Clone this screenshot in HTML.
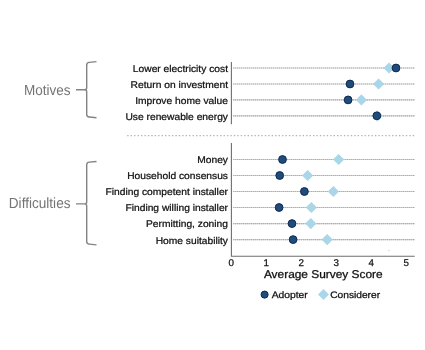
<!DOCTYPE html>
<html><head><meta charset="utf-8"><style>
html,body{margin:0;padding:0;background:#fff;width:425px;height:350px;overflow:hidden;position:relative}
</style></head><body>
<svg width="425" height="350" viewBox="0 0 425 350" style="position:absolute;left:0;top:0;filter:blur(0.35px)">
<rect width="425" height="350" fill="#fff"/>
<g font-family='"Liberation Sans", sans-serif' text-rendering="geometricPrecision">
<line x1="233" y1="68.0" x2="415" y2="68.0" stroke="#cdcdcd" stroke-width="1.15"/>
<line x1="233" y1="68.0" x2="415" y2="68.0" stroke="#afafaf" stroke-width="1.15" stroke-dasharray="1 1"/>
<line x1="233" y1="84.0" x2="415" y2="84.0" stroke="#cdcdcd" stroke-width="1.15"/>
<line x1="233" y1="84.0" x2="415" y2="84.0" stroke="#afafaf" stroke-width="1.15" stroke-dasharray="1 1"/>
<line x1="233" y1="99.9" x2="415" y2="99.9" stroke="#cdcdcd" stroke-width="1.15"/>
<line x1="233" y1="99.9" x2="415" y2="99.9" stroke="#afafaf" stroke-width="1.15" stroke-dasharray="1 1"/>
<line x1="233" y1="115.8" x2="415" y2="115.8" stroke="#cdcdcd" stroke-width="1.15"/>
<line x1="233" y1="115.8" x2="415" y2="115.8" stroke="#afafaf" stroke-width="1.15" stroke-dasharray="1 1"/>
<line x1="233" y1="159.5" x2="415" y2="159.5" stroke="#cdcdcd" stroke-width="1.15"/>
<line x1="233" y1="159.5" x2="415" y2="159.5" stroke="#afafaf" stroke-width="1.15" stroke-dasharray="1 1"/>
<line x1="233" y1="175.5" x2="415" y2="175.5" stroke="#cdcdcd" stroke-width="1.15"/>
<line x1="233" y1="175.5" x2="415" y2="175.5" stroke="#afafaf" stroke-width="1.15" stroke-dasharray="1 1"/>
<line x1="233" y1="191.5" x2="415" y2="191.5" stroke="#cdcdcd" stroke-width="1.15"/>
<line x1="233" y1="191.5" x2="415" y2="191.5" stroke="#afafaf" stroke-width="1.15" stroke-dasharray="1 1"/>
<line x1="233" y1="207.5" x2="415" y2="207.5" stroke="#cdcdcd" stroke-width="1.15"/>
<line x1="233" y1="207.5" x2="415" y2="207.5" stroke="#afafaf" stroke-width="1.15" stroke-dasharray="1 1"/>
<line x1="233" y1="223.55" x2="415" y2="223.55" stroke="#cdcdcd" stroke-width="1.15"/>
<line x1="233" y1="223.55" x2="415" y2="223.55" stroke="#afafaf" stroke-width="1.15" stroke-dasharray="1 1"/>
<line x1="233" y1="239.6" x2="415" y2="239.6" stroke="#cdcdcd" stroke-width="1.15"/>
<line x1="233" y1="239.6" x2="415" y2="239.6" stroke="#afafaf" stroke-width="1.15" stroke-dasharray="1 1"/>
<line x1="127.2" y1="135.6" x2="415" y2="135.6" stroke="#b4b4b4" stroke-width="1.2" stroke-dasharray="1.4 2.04"/>
<line x1="231.4" y1="62" x2="231.4" y2="124.3" stroke="#6e6e6e" stroke-width="1.1"/>
<polyline points="231.4,142.9 231.4,256.3 414.7,256.3" fill="none" stroke="#6e6e6e" stroke-width="1.1"/>
<text transform="translate(228.00 71.90) scale(1 0.95)" font-size="10.25" text-anchor="end" fill="#111111" stroke="#111111" stroke-width="0.26">Lower electricity cost</text>
<text transform="translate(228.00 87.90) scale(1 0.95)" font-size="10.25" text-anchor="end" fill="#111111" stroke="#111111" stroke-width="0.26">Return on investment</text>
<text transform="translate(228.00 103.80) scale(1 0.95)" font-size="10.25" text-anchor="end" fill="#111111" stroke="#111111" stroke-width="0.26">Improve home value</text>
<text transform="translate(228.00 119.70) scale(1 0.95)" font-size="10.25" text-anchor="end" fill="#111111" stroke="#111111" stroke-width="0.26">Use renewable energy</text>
<text transform="translate(228.00 163.40) scale(1 0.95)" font-size="10.25" text-anchor="end" fill="#111111" stroke="#111111" stroke-width="0.26">Money</text>
<text transform="translate(228.00 179.40) scale(1 0.95)" font-size="10.25" text-anchor="end" fill="#111111" stroke="#111111" stroke-width="0.26">Household consensus</text>
<text transform="translate(228.00 195.40) scale(1 0.95)" font-size="10.25" text-anchor="end" fill="#111111" stroke="#111111" stroke-width="0.26">Finding competent installer</text>
<text transform="translate(228.00 211.40) scale(1 0.95)" font-size="10.25" text-anchor="end" fill="#111111" stroke="#111111" stroke-width="0.26">Finding willing installer</text>
<text transform="translate(228.00 227.45) scale(1 0.95)" font-size="10.25" text-anchor="end" fill="#111111" stroke="#111111" stroke-width="0.26">Permitting, zoning</text>
<text transform="translate(228.00 243.50) scale(1 0.95)" font-size="10.25" text-anchor="end" fill="#111111" stroke="#111111" stroke-width="0.26">Home suitability</text>
<path d="M389.0 62.4 L394.6 68.0 L389.0 73.6 L383.4 68.0 Z" fill="#a9d6e8"/>
<path d="M378.6 78.4 L384.20000000000005 84.0 L378.6 89.6 L373.0 84.0 Z" fill="#a9d6e8"/>
<path d="M361.4 94.30000000000001 L367.0 99.9 L361.4 105.5 L355.79999999999995 99.9 Z" fill="#a9d6e8"/>
<path d="M377.4 110.2 L383.0 115.8 L377.4 121.39999999999999 L371.79999999999995 115.8 Z" fill="#a9d6e8"/>
<circle cx="396.0" cy="68.0" r="3.9" fill="#1f4c7c" stroke="#0c2b4f" stroke-width="1.0"/>
<circle cx="350.0" cy="84.0" r="3.9" fill="#1f4c7c" stroke="#0c2b4f" stroke-width="1.0"/>
<circle cx="348.1" cy="99.9" r="3.9" fill="#1f4c7c" stroke="#0c2b4f" stroke-width="1.0"/>
<circle cx="376.8" cy="115.8" r="3.9" fill="#1f4c7c" stroke="#0c2b4f" stroke-width="1.0"/>
<path d="M338.6 153.9 L344.20000000000005 159.5 L338.6 165.1 L333.0 159.5 Z" fill="#a9d6e8"/>
<circle cx="282.5" cy="159.5" r="3.9" fill="#1f4c7c" stroke="#0c2b4f" stroke-width="1.0"/>
<path d="M307.6 169.9 L313.20000000000005 175.5 L307.6 181.1 L302.0 175.5 Z" fill="#a9d6e8"/>
<circle cx="279.7" cy="175.5" r="3.9" fill="#1f4c7c" stroke="#0c2b4f" stroke-width="1.0"/>
<path d="M333.4 185.9 L339.0 191.5 L333.4 197.1 L327.79999999999995 191.5 Z" fill="#a9d6e8"/>
<circle cx="304.4" cy="191.5" r="3.9" fill="#1f4c7c" stroke="#0c2b4f" stroke-width="1.0"/>
<path d="M311.4 201.9 L317.0 207.5 L311.4 213.1 L305.79999999999995 207.5 Z" fill="#a9d6e8"/>
<circle cx="279.1" cy="207.5" r="3.9" fill="#1f4c7c" stroke="#0c2b4f" stroke-width="1.0"/>
<path d="M310.8 217.95000000000002 L316.40000000000003 223.55 L310.8 229.15 L305.2 223.55 Z" fill="#a9d6e8"/>
<circle cx="292.0" cy="223.55" r="3.9" fill="#1f4c7c" stroke="#0c2b4f" stroke-width="1.0"/>
<path d="M327.2 234.0 L332.8 239.6 L327.2 245.2 L321.59999999999997 239.6 Z" fill="#a9d6e8"/>
<circle cx="293.1" cy="239.6" r="3.9" fill="#1f4c7c" stroke="#0c2b4f" stroke-width="1.0"/>
<text transform="translate(231.20 266.20) scale(1 1.0)" font-size="9.8" text-anchor="middle" fill="#111111" stroke="#111111" stroke-width="0.25">0</text>
<text transform="translate(266.20 266.20) scale(1 1.0)" font-size="9.8" text-anchor="middle" fill="#111111" stroke="#111111" stroke-width="0.25">1</text>
<text transform="translate(301.20 266.20) scale(1 1.0)" font-size="9.8" text-anchor="middle" fill="#111111" stroke="#111111" stroke-width="0.25">2</text>
<text transform="translate(336.20 266.20) scale(1 1.0)" font-size="9.8" text-anchor="middle" fill="#111111" stroke="#111111" stroke-width="0.25">3</text>
<text transform="translate(371.20 266.20) scale(1 1.0)" font-size="9.8" text-anchor="middle" fill="#111111" stroke="#111111" stroke-width="0.25">4</text>
<text transform="translate(406.20 266.20) scale(1 1.0)" font-size="9.8" text-anchor="middle" fill="#111111" stroke="#111111" stroke-width="0.25">5</text>
<text transform="translate(263.90 278.20) scale(1 0.95)" font-size="11.9" fill="#111111" stroke="#111111" stroke-width="0.3">Average Survey Score</text>
<circle cx="389" cy="250.5" r="0.7" fill="#cfcfcf"/>
<circle cx="264.6" cy="294.6" r="3.55" fill="#1f4c7c" stroke="#0c2b4f" stroke-width="1.0"/>
<text transform="translate(271.70 298.40) scale(1 0.92)" font-size="10.3" fill="#111111" stroke="#111111" stroke-width="0.28">Adopter</text>
<path d="M323.5 289.1 L329.0 294.6 L323.5 300.1 L318.0 294.6 Z" fill="#a9d6e8"/>
<text transform="translate(330.20 298.40) scale(1 0.92)" font-size="10.2" fill="#111111" stroke="#111111" stroke-width="0.28">Considerer</text>
<text transform="translate(23.90 94.70) scale(1 1.08)" font-size="13.5" fill="#747474">Motives</text>
<text transform="translate(8.80 207.80) scale(1 1.08)" font-size="13.6" fill="#747474">Difficulties</text>
<path d="M96.5 61.65 L89.2 62.35 Q86.7 62.6 86.7 64.9 L86.7 87.8 Q86.7 89.8 84.5 89.8 L76 89.8 M84.5 89.8 Q86.7 89.8 86.7 91.8 L86.7 114.5 Q86.7 116.8 89.2 117.05 L96.5 117.75" fill="none" stroke="#838383" stroke-width="1.4"/>
<path d="M96.5 161.45000000000002 L89.2 162.15 Q86.7 162.4 86.7 164.70000000000002 L86.7 201.9 Q86.7 203.9 84.5 203.9 L76 203.9 M84.5 203.9 Q86.7 203.9 86.7 205.9 L86.7 241.6 Q86.7 243.9 89.2 244.15 L96.5 244.85" fill="none" stroke="#838383" stroke-width="1.4"/>
</g></svg>
</body></html>
